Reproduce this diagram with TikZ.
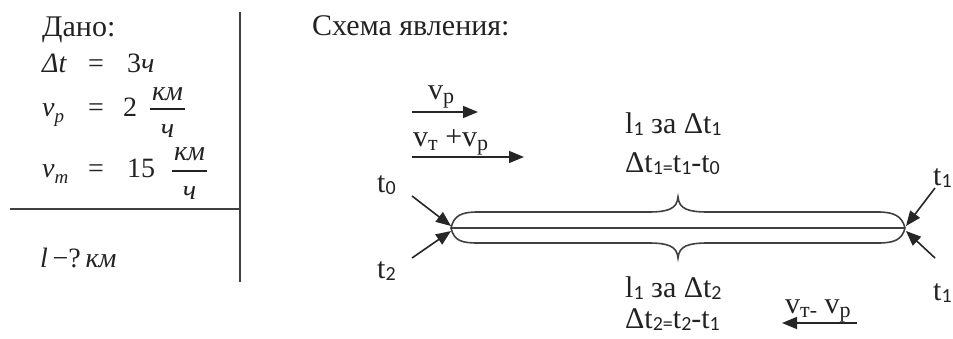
\documentclass[tikz,border=0pt]{standalone}
\usepackage{fontspec}
\setmainfont{Liberation Serif}
\newfontface\calibface{Carlito}
\usetikzlibrary{arrows.meta}
\newcommand\lowsub[1]{\raisebox{-2.5pt}{\begingroup\fontsize{20}{20}\calibface #1\endgroup}}
\newcommand\rsub[1]{\raisebox{-4pt}{\begingroup\rmfamily\fontsize{22}{22}\selectfont #1\endgroup}}
\newcommand\msub[1]{\raisebox{-6pt}{\begingroup\rmfamily\fontsize{19}{19}\selectfont\itshape #1\endgroup}}
\definecolor{ink}{HTML}{222222}
\tikzset{
  tx/.style={font=\rmfamily\fontsize{30}{34}\selectfont, inner sep=0pt, text=ink},
  mt/.style={font=\rmfamily\fontsize{28}{32}\selectfont, inner sep=0pt, text=ink},
  rule/.style={line width=1.5pt, draw=black!75},
  shp/.style={line width=1.6pt, draw=black!75},
  arr/.style={line width=1.6pt, draw=black!85, -{Triangle[length=15pt,width=12pt]}},
}
\begin{document}
\begin{tikzpicture}[x=1pt,y=-1pt]
\useasboundingbox (0,0) rectangle (953,338);
% ---- given data ----
\node[tx, anchor=base west] (dano) at (42,36) {Дано:};
\node[mt, anchor=base west] (dt) at (42,72) {\textit{Δt}};
\node[mt, anchor=base] (eq1) at (96,72) {=};
\node[mt, anchor=base west] (thr) at (127,72) {3\textit{ч}};
\node[mt, anchor=base west] (vp) at (42,116) {\textit{v}\msub{p}};
\node[mt, anchor=base] (eq2) at (96,116) {=};
\node[mt, anchor=base west] (two) at (123,116) {2};
\coordinate (f1a) at (150,109); \coordinate (f1b) at (185,109);
\draw[line width=1.2pt, draw=ink] (f1a) -- (f1b);
\node[mt, anchor=base] (km1) at (167.5,100) {\textit{км}};
\node[mt, anchor=base] (ch1) at (167.5,137) {\textit{ч}};
\node[mt, anchor=base west] (vm) at (42,177) {\textit{v}\msub{m}};
\node[mt, anchor=base] (eq3) at (96,177) {=};
\node[mt, anchor=base west] (ff) at (127,177) {15};
\coordinate (f2a) at (172,171); \coordinate (f2b) at (207,171);
\draw[line width=1.2pt, draw=ink] (f2a) -- (f2b);
\node[mt, anchor=base] (km2) at (189.5,160) {\textit{км}};
\node[mt, anchor=base] (ch2) at (189.5,199) {\textit{ч}};
\coordinate (hl) at (10,209); \coordinate (hr) at (240,209);
\coordinate (vt) at (240,12); \coordinate (vb) at (240,282);
\draw[rule] (hl) -- (hr);
\draw[rule] (vt) -- (vb);
\node[mt, anchor=base west] (ask) at (40,267) {\textit{l}\,−?\,\textit{км}};
% ---- scheme ----
\node[tx, anchor=base west] (schema) at (312,35) {Схема явления:};
\node[tx, anchor=base west] (lvp) at (428,99) {v\rsub{p}};
\coordinate (a1s) at (412,112); \coordinate (a1e) at (478,112);
\draw[arr] (a1s) -- (a1e);
\node[tx, anchor=base west] (lvtp) at (413,146) {v\rsub{т} +v\rsub{p}};
\coordinate (a2s) at (412,157); \coordinate (a2e) at (524,157);
\draw[arr] (a2s) -- (a2e);
\node[tx, anchor=base west] (l1a) at (625,133) {l\lowsub{1} за Δt\lowsub{1}};
\node[tx, anchor=base west] (d1) at (625,172) {Δt\lowsub{1=}t\lowsub{1}-t\lowsub{0}};
\node[tx, anchor=base west] (l1b) at (625,297) {l\lowsub{1} за Δt\lowsub{2}};
\node[tx, anchor=base west] (d2) at (625,328) {Δt\lowsub{2=}t\lowsub{2}-t\lowsub{1}};
\node[tx, anchor=base west] (lvtm) at (785,313) {v\rsub{т-} v\rsub{p}};
\coordinate (a3s) at (857,323); \coordinate (a3e) at (782,323);
\draw[arr] (a3s) -- (a3e);
% body
\coordinate (L) at (451,228); \coordinate (R) at (905,228);
\draw[shp] (L) .. controls (454,215) and (462,212) .. (478,212) -- (648,212)
  .. controls (668,212) and (677,209) .. (678,197)
  .. controls (679,209) and (688,212) .. (708,212) -- (878,212)
  .. controls (894,212) and (902,216) .. (R);
\draw[shp] (L) .. controls (454,241) and (462,243) .. (478,243) -- (648,243)
  .. controls (668,243) and (677,246) .. (678,258)
  .. controls (679,246) and (688,243) .. (708,243) -- (878,243)
  .. controls (894,243) and (902,240) .. (R);
\draw[shp] (L) -- (R);
% time labels and arrows
\node[tx, anchor=base west] (t0) at (377,192) {t\lowsub{0}};
\node[tx, anchor=base west] (t2) at (377,278) {t\lowsub{2}};
\node[tx, anchor=base west] (t1u) at (933,185) {t\lowsub{1}};
\node[tx, anchor=base west] (t1d) at (933,300) {t\lowsub{1}};
\coordinate (b0s) at (412,196); \coordinate (b0e) at (451,226);
\coordinate (b2s) at (412,258); \coordinate (b2e) at (451,231);
\coordinate (b1s) at (935,188); \coordinate (b1e) at (906,226);
\coordinate (b3s) at (935,258); \coordinate (b3e) at (906,231);
\draw[arr] (b0s) -- (b0e);
\draw[arr] (b2s) -- (b2e);
\draw[arr] (b1s) -- (b1e);
\draw[arr] (b3s) -- (b3e);
\end{tikzpicture}
\end{document}
